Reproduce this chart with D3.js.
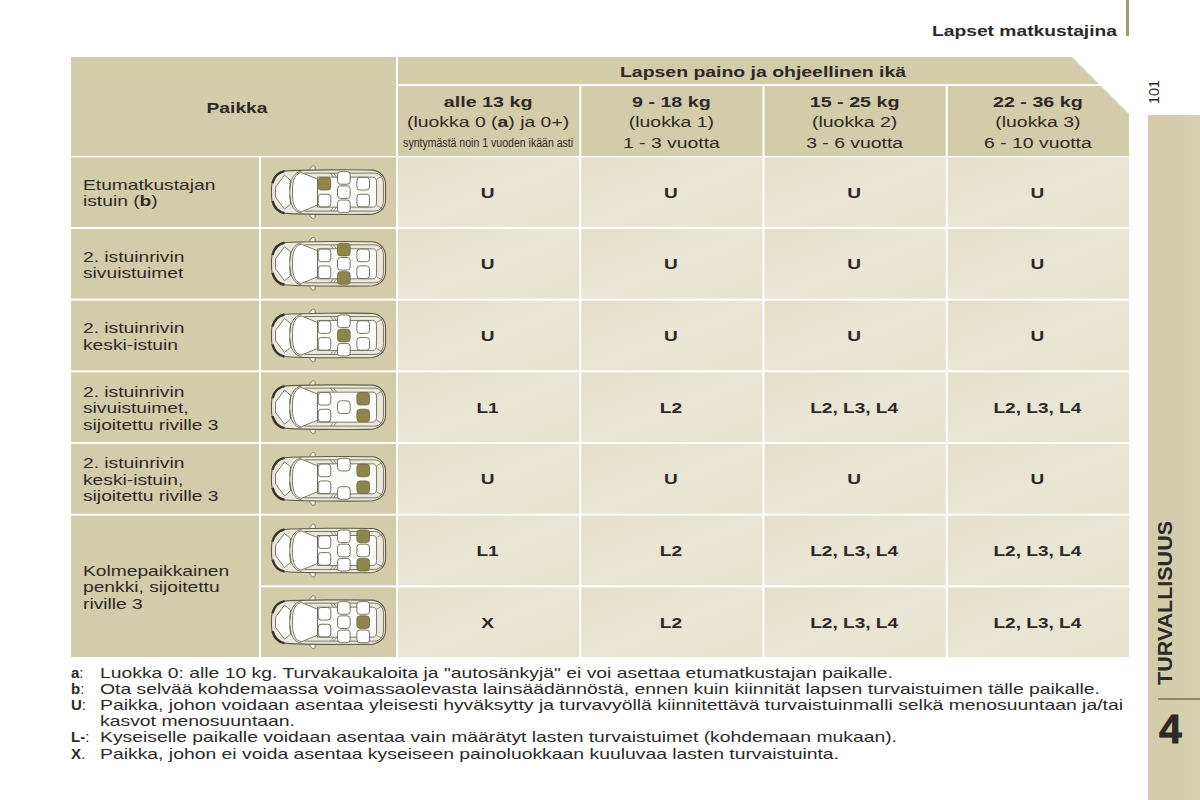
<!DOCTYPE html>
<html><head><meta charset="utf-8">
<script src="https://cdnjs.cloudflare.com/ajax/libs/d3/7.8.5/d3.min.js"></script>
<style>html,body{margin:0;padding:0;background:#fff}svg{display:block}text{font-family:"Liberation Sans",Arial,sans-serif;fill:#2c2926}</style>
</head><body><svg id="c" width="1200" height="800"></svg>
<script>
const positions=["p1","p2","p3","p4","p5","p6","p7"];
const weightClasses=["alle 13 kg","9 - 18 kg","15 - 25 kg","22 - 36 kg"];
const classNames=[["(luokka 0 (","a",") ja 0+)"],["(luokka 1)"],["(luokka 2)"],["(luokka 3)"]];
const ageNotes=["syntymästä noin 1 vuoden ikään asti","1 - 3 vuotta","3 - 6 vuotta","6 - 10 vuotta"];
const rowLabels=[["Etumatkustajan","istuin (b)"],["2. istuinrivin","sivuistuimet"],["2. istuinrivin","keski-istuin"],["2. istuinrivin","sivuistuimet,","sijoitettu riville 3"],["2. istuinrivin","keski-istuin,","sijoitettu riville 3"],["Kolmepaikkainen","penkki, sijoitettu","riville 3"]];
const rowSpans=[1,1,1,1,1,2];
const cells=[["U","U","U","U"],["U","U","U","U"],["U","U","U","U"],["L1","L2","L2, L3, L4","L2, L3, L4"],["U","U","U","U"],["L1","L2","L2, L3, L4","L2, L3, L4"],["X","L2","L2, L3, L4","L2, L3, L4"]];
// seat maps: w = free seat, h = highlighted seat, - = no seat
const frontSeats=["hw","ww","ww","ww","ww","ww","ww"];
const midSeats=["www","hwh","whw","-w-","w-w","www","www"];
const rearSeats=["ww","ww","ww","hh","hh","hwh","whw"];
const notes=[["a",":","Luokka 0: alle 10 kg. Turvakaukaloita ja \"autosänkyjä\" ei voi asettaa etumatkustajan paikalle."],
["b",":","Ota selvää kohdemaassa voimassaolevasta lainsäädännöstä, ennen kuin kiinnität lapsen turvaistuimen tälle paikalle."],
["U",":","Paikka, johon voidaan asentaa yleisesti hyväksytty ja turvavyöllä kiinnitettävä turvaistuinmalli selkä menosuuntaan ja/tai"],
["","","kasvot menosuuntaan."],
["L-",":","Kyseiselle paikalle voidaan asentaa vain määrätyt lasten turvaistuimet (kohdemaan mukaan)."],
["X",".","Paikka, johon ei voida asentaa kyseiseen painoluokkaan kuuluvaa lasten turvaistuinta."]];
const noteWidths=[793,1000,1023,195,797,739];
const noteBaselines=[678,694,710,726,742,759];
const pageTitle="Lapset matkustajina",chapter="TURVALLISUUS",chapterNo="4",pageNo="101",
 headPlace="Paikka",headWeight="Lapsen paino ja ohjeellinen ikä";

const HEAD="#d3ccaa",RULE="#a39d6c";
const svg=d3.select("#c");
const defs=svg.append("defs");
const g1=defs.append("linearGradient").attr("id","bodyG").attr("x1",0).attr("x2",1).attr("y1",0).attr("y2",1);
g1.append("stop").attr("offset",0).attr("stop-color","#e3dfc9");
g1.append("stop").attr("offset",.5).attr("stop-color","#e9e6d5");
g1.append("stop").attr("offset",1).attr("stop-color","#e5e2cd");
const g2=defs.append("linearGradient").attr("id","sideG").attr("x1",0).attr("x2",1).attr("y1",0).attr("y2",0);
g2.append("stop").attr("offset",0).attr("stop-color","#d2cba9");
g2.append("stop").attr("offset",1).attr("stop-color","#d6d0b1");

function stretch(t,f){const n=t.node();n.setAttribute("textLength",n.getComputedTextLength()*f);n.setAttribute("lengthAdjust","spacingAndGlyphs");return t;}
function txt(p,s,x,y,o={}){
 const t=p.append("text").attr("x",x).attr("y",y).text(s)
  .attr("font-size",o.size||15).attr("font-weight",o.bold?"bold":"normal").attr("text-anchor",o.anchor||"start");
 if(o.w){t.attr("textLength",o.w).attr("lengthAdjust","spacingAndGlyphs");}
 if(o.f)stretch(t,o.f);
 return t;
}

const y=d3.scaleBand().domain(positions).range([157.3,657]).paddingInner(.028);
const x=d3.scaleBand().domain(weightClasses).range([398,1129]).paddingInner(.011);
const labelX0=71,labelX1=259,iconX0=261,iconX1=396;

// header
svg.append("rect").attr("x",labelX0).attr("y",57).attr("width",iconX1-labelX0).attr("height",99).attr("fill",HEAD);
const headTop=d3.path();headTop.moveTo(398,57);headTop.lineTo(1072,57);headTop.lineTo(1099,84);headTop.lineTo(398,84);headTop.closePath();
svg.append("path").attr("d",headTop).attr("fill",HEAD);
const headBot=d3.path();headBot.moveTo(398,86);headBot.lineTo(1101,86);headBot.lineTo(1129,114);headBot.lineTo(1129,156);headBot.lineTo(398,156);headBot.closePath();
svg.append("path").attr("d",headBot).attr("fill",HEAD);
weightClasses.slice(1).forEach(w=>svg.append("rect").attr("x",x(w)-x.step()+x.bandwidth()).attr("y",86).attr("width",x.step()-x.bandwidth()).attr("height",70).attr("fill","#fff"));
txt(svg,headPlace,237,113,{bold:1,anchor:"middle",size:15.5,w:61});
txt(svg,headWeight,763,77,{bold:1,anchor:"middle",size:15,w:286});
weightClasses.forEach((w,i)=>{
 const cx=x(w)+x.bandwidth()/2-.5;
 txt(svg,w,cx,107,{bold:1,anchor:"middle",size:15.5,f:1.27});
 const t=svg.append("text").attr("x",cx).attr("y",127).attr("text-anchor","middle").attr("font-size",15.5);
 classNames[i].forEach((s,j)=>t.append("tspan").attr("font-weight",j==1?"bold":"normal").text(s));
 stretch(t,1.25);
 if(i==0) txt(svg,ageNotes[i],cx,147,{anchor:"middle",size:12.5,w:170});
 else txt(svg,ageNotes[i],cx,148,{anchor:"middle",size:15.5,f:1.25});
});

// row label cells
let ri=0;
rowLabels.forEach((lines,i)=>{
 const a=positions[ri],b=positions[ri+rowSpans[i]-1];
 const top=y(a),bot=y(b)+y.bandwidth();
 svg.append("rect").attr("x",labelX0).attr("y",top).attr("width",labelX1-labelX0).attr("height",bot-top).attr("fill",HEAD);
 const mid=(top+bot)/2,lh=16.4;
 lines.forEach((l,k)=>{
  const by=mid+(k-(lines.length-1)/2)*lh+6;
  const m=l.match(/^(.*\()b(\).*)$/);
  if(m){const t=svg.append("text").attr("x",83).attr("y",by).attr("font-size",15);
   t.append("tspan").text(m[1]);t.append("tspan").attr("font-weight","bold").text("b");t.append("tspan").text(m[2]);stretch(t,1.28);}
  else txt(svg,l,83,by,{size:15,f:1.28});
 });
 ri+=rowSpans[i];
});

// car icon
const seatX=d3.scalePoint().domain(["front","mid","rear"]).range([-4,34.7]);
const seatY2=d3.scalePoint().domain([0,1]).range([-8.4,8.4]);
const seatY3=d3.scalePoint().domain([0,1,2]).range([-14.2,14.2]);
function car(gc,i){
 const line=(d,o={})=>gc.append("path").attr("d",d).attr("fill",o.fill||"none").attr("stroke",o.stroke||"#5f5c48").attr("stroke-width",o.sw||.8);
 // mirrors
 line("M-20,-20 C-19,-24 -16,-27 -14.5,-26.5 C-13,-26 -13,-22 -14,-19Z",{fill:"#f4f2e6"});
 line("M-20,20 C-19,24 -16,27 -14.5,26.5 C-13,26 -13,22 -14,19Z",{fill:"#f4f2e6"});
 // body
 line("M-57,-3 C-57,-13 -53,-19 -44,-21 C-30,-22.5 30,-22.5 44,-22 C52,-21 57,-15 57,-8 L57,8 C57,15 52,21 44,22 C30,22.5 -30,22.5 -44,21 C-53,19 -57,13 -57,3Z",{fill:"#ebe9dc",sw:1.1});
 line("M-56,-9 C-54,-16 -50,-20 -44,-21",{stroke:"#38352a",sw:2.4});
 line("M-56,9 C-54,16 -50,20 -44,21",{stroke:"#38352a",sw:2.4});
 // hood
 line("M-53,-5 L-44,-17 -38,-12 C-39,-5 -39,5 -38,12 L-44,17 -53,5Z",{fill:"#fff"});
 // cabin
 line("M-36,-3 C-36,-12 -33,-19 -27,-19.5 L-11,-13 -11,13 -27,19.5 C-33,19 -36,12 -36,3Z",{fill:"#fff"});
 line("M-38.5,-3 C-38.5,-13 -34,-20 -27,-21",{});
 line("M-38.5,3 C-38.5,13 -34,20 -27,21",{});
 // floor
 line("M-11,-15 L44,-15 C47,-15 48,-13 48,-10 L48,10 C48,13 47,15 44,15 L-11,15 L-11,-15Z",{fill:"#fbfbf7"});
 // side sills
 line("M-24,-19 L46,-19 C52,-19 55,-14 55,-8 L55,8 C55,14 52,19 46,19 L-24,19",{});
 line("M2,-19 L5,-15 M5,-19 L8,-15 M2,19 L5,15 M5,19 L8,15",{sw:.6});
 line("M48,-13 L55,-17 M48,13 L55,17",{sw:.6});
 const groups=[["front",frontSeats[i]],["mid",midSeats[i]],["rear",rearSeats[i]]];
 groups.forEach(([col,code])=>{
  const sy=code.length==3?seatY3:seatY2;
  code.split("").forEach((c,k)=>{
   if(c=="-")return;
   gc.append("rect").attr("x",seatX(col)-6.3).attr("y",sy(k)-6.3).attr("width",12.6).attr("height",12.6).attr("rx",3)
    .attr("fill",c=="h"?"#8d854c":"#fff").attr("stroke",c=="h"?"#6f6a3c":"#55523f").attr("stroke-width",.8);
  });
 });
}
positions.forEach((p,i)=>{
 svg.append("rect").attr("x",iconX0).attr("y",y(p)).attr("width",iconX1-iconX0).attr("height",y.bandwidth()).attr("fill",HEAD);
 car(svg.append("g").attr("transform",`translate(${(iconX0+iconX1)/2},${y(p)+y.bandwidth()/2})`),i);
 weightClasses.forEach((w,j)=>{
  svg.append("rect").attr("x",x(w)).attr("y",y(p)).attr("width",x.bandwidth()).attr("height",y.bandwidth()).attr("fill","url(#bodyG)");
  txt(svg,cells[i][j],x(w)+x.bandwidth()/2-1,y(p)+y.bandwidth()/2+5.5,{bold:1,anchor:"middle",size:15,f:1.27});
 });
});

// footnotes
notes.forEach((n,i)=>{
 if(n[0]){const t=svg.append("text").attr("x",71).attr("y",noteBaselines[i]).attr("font-size",15);
  t.append("tspan").attr("font-weight","bold").text(n[0]);t.append("tspan").text(n[1]);}
 txt(svg,n[2],100,noteBaselines[i],{size:15,w:noteWidths[i]});
});

// page furniture
svg.append("rect").attr("x",1126).attr("y",0).attr("width",3).attr("height",36).attr("fill",RULE);
txt(svg,pageTitle,1117,36,{bold:1,anchor:"end",size:15.5,w:185});
svg.append("rect").attr("x",1148).attr("y",115).attr("width",52).attr("height",685).attr("fill","url(#sideG)");
svg.append("text").attr("transform","translate(1159,104) rotate(-90)").attr("font-size",15.5).attr("textLength",24).attr("lengthAdjust","spacingAndGlyphs").text(pageNo);
svg.append("text").attr("transform","translate(1172,685) rotate(-90)").attr("font-size",19.5).attr("font-weight","bold").attr("textLength",164).attr("lengthAdjust","spacingAndGlyphs").text(chapter);
svg.append("rect").attr("x",1158).attr("y",698).attr("width",42).attr("height",2).attr("fill","#8f8a5a");
txt(svg,chapterNo,1170.5,743,{bold:1,anchor:"middle",size:41}).attr("stroke","#2a2723").attr("stroke-width",.8);
</script></body></html>
